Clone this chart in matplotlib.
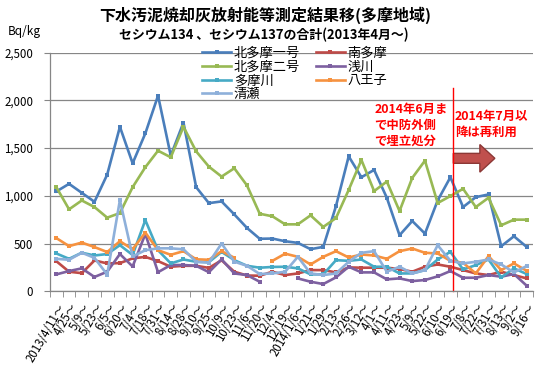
import numpy as np
import matplotlib
matplotlib.use("Agg")
import matplotlib.pyplot as plt
from matplotlib.patches import FancyArrow
from matplotlib.ticker import FuncFormatter, MultipleLocator

plt.rcParams['font.family'] = ['Noto Sans CJK JP', 'DejaVu Sans']

nan = np.nan

dates = ["2013/4/11～", "4/25～", "5/9～", "5/23～", "6/5～", "6/20～", "7/4～",
         "7/18～", "7/31～", "8/14～", "8/28～", "9/10～", "9/25～", "10/9～",
         "10/23～", "11/6～", "11/20～", "12/4～", "12/19～", "2014/1/6～",
         "1/21～", "1/29～", "2/13～", "2/26～", "3/12～", "4/1～", "4/11～",
         "4/23～", "5/9～", "5/22～", "6/10～", "6/19～", "7/8～", "7/22～",
         "7/31～", "8/13～", "9/2～", "9/16～"]

kitatama1 = [1045, 1125, 1031, 937, 1222, 1722, 1340, 1653, 2048, 1420, 1767, 1090,
             923, 941, 805, 663, 550, 552, 524, 507, 441, 465, 892, 1413, 1194, 1271,
             979, 587, 736, 604, 951, 1194, 882, 986, 1014, 472, 576, 465]
minamitama = [315, 205, 190, 323, 292, 295, 345, 360, 316, 257, 267, 267, 245, 325,
              205, 165, 163, 205, 170, 187, 222, 222, 198, 250, 247, 247, 247, 233,
              205, 257, 281, 257, 222, 187, 170, 205, 170, 135]
kitatama2 = [1090, 858, 951, 882, 771, 819, 1090, 1299, 1472, 1403, 1722, 1465, 1305,
             1201, 1288, 1108, 812, 785, 701, 701, 795, 674, 767, 1062, 1375, 1049,
             1149, 840, 1187, 1368, 924, 997, 1073, 882, 979, 691, 750, 750]
asakawa = [177, 212, 240, 150, 205, 390, 260, 600, 200, 275, 275, 267, 200, 335, 187,
           170, 100, nan, nan, 135, 100, 76, 146, 257, 198, 198, 125, 135, 107, 118,
           156, 212, 142, 142, 170, 153, 181, 59]
tamagawa = [396, 340, 404, 375, 390, 483, 380, 745, 430, 292, 333, 309, 305, 413, 326,
            267, 247, 255, 257, 240, 177, 177, 326, 319, 333, 257, 257, 187, 187, 222,
            333, 413, 229, 274, 333, 146, 240, 181]
hachioji = [557, 473, 510, 463, 411, 524, 440, 615, 430, 382, 420, 335, 330, 420, 351,
            nan, nan, 319, 394, 361, 281, 361, 420, 354, 385, 375, 340, 420, 448, 403,
            396, 319, 298, 187, 368, 222, 292, 215]
kiyose = [340, 330, 404, 350, 175, 955, 365, 430, 450, 450, 440, 309, 300, 500, 310,
          267, 181, 187, 205, 361, 187, 170, 187, 309, 403, 420, 205, 257, 187, 222,
          483, 319, 292, 309, 333, 281, 198, 264]

series = [
    ("北多摩一号", kitatama1, "#4A7EBB"),
    ("南多摩", minamitama, "#BE4B48"),
    ("北多摩二号", kitatama2, "#98B954"),
    ("浅川", asakawa, "#7D60A0"),
    ("多摩川", tamagawa, "#46AAC5"),
    ("八王子", hachioji, "#F69240"),
    ("清瀬", kiyose, "#8EB0DA"),
]

switch_x = 31.17  # between 6/19 and 7/8

fig = plt.figure(figsize=(5.45, 3.7), dpi=100)
ax = fig.add_axes([50 / 545, 1 - 291.3 / 370, 483 / 545, 238.8 / 370])

x = np.arange(len(dates))
handles = {}
for name, vals, col in series:
    h, = ax.plot(x, vals, color=col, lw=1.9, marker='s', ms=3.2,
                 markeredgewidth=0, label=name)
    handles[name] = h

ax.set_xlim(-0.5, len(dates) - 0.5)
ax.set_ylim(0, 2500)
ax.yaxis.set_major_locator(MultipleLocator(500))
ax.yaxis.set_major_formatter(FuncFormatter(lambda v, p: f"{int(v):,}"))
ax.grid(axis='y', color='#868686', lw=0.9)
ax.set_axisbelow(True)
for s in ['top', 'right']:
    ax.spines[s].set_visible(False)
for s in ['left', 'bottom']:
    ax.spines[s].set_color('#868686')
    ax.spines[s].set_linewidth(0.9)

ax.set_xticks(x)
ax.set_xticklabels(dates, rotation=60, ha='right', rotation_mode='anchor', fontsize=8.3)
ax.set_xticks(np.arange(len(dates) + 1) - 0.5, minor=True)
ax.tick_params(axis='x', which='major', length=0, pad=7)
ax.tick_params(axis='x', which='minor', length=4, color='#868686')
ax.tick_params(axis='y', length=4, color='#868686', labelsize=8.3, pad=8)

# cutover marker
ax.plot([switch_x, switch_x], [0, 2130], color='#FF0000', lw=1, clip_on=False)
ax.add_patch(FancyArrow(switch_x + 0.06, 1392, 3.27, 0, width=104, head_width=289,
                        head_length=1.18, length_includes_head=True,
                        facecolor='#C0504D', edgecolor='#8C3836', lw=1))
ax.text(25.0, 1976, "2014年6月ま\nで中防外側\nで埋立処分", color='#FF0000',
        fontsize=8.9, fontweight='bold', ha='left', va='top', linespacing=1.3)
ax.text(31.37, 1896, "2014年7月以\n降は再利用", color='#FF0000',
        fontsize=8.9, fontweight='bold', ha='left', va='top', linespacing=1.3)

order = ["北多摩一号", "北多摩二号", "多摩川", "清瀬", "南多摩", "浅川", "八王子"]
ax.legend([handles[n] for n in order], order, loc='upper left',
          bbox_to_anchor=(202 / 545, 1 - 47 / 370), bbox_transform=fig.transFigure,
          ncol=2, frameon=False, fontsize=9.5, handlelength=2.2, handletextpad=0.2,
          labelspacing=0.05, columnspacing=1.2, borderpad=0, borderaxespad=0)

fig.text(265 / 545, 1 - 15 / 370, "下水汚泥焼却灰放射能等測定結果移(多摩地域)",
         ha='center', va='center', fontsize=11.5, fontweight='bold')
fig.text(264 / 545, 1 - 35 / 370, "セシウム134 、セシウム137の合計(2013年4月～)",
         ha='center', va='center', fontsize=9.3, fontweight='bold')
fig.text(8 / 545, 1 - 32 / 370, "Bq/kg", ha='left', va='center', fontsize=8.5)

fig.savefig("out.png", dpi=100)
